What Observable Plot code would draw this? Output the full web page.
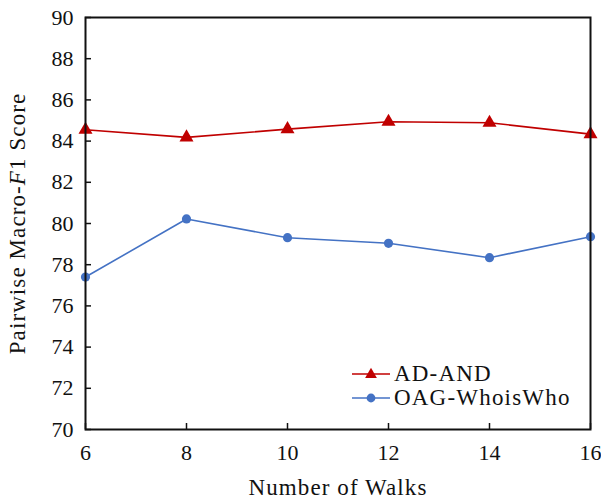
<!DOCTYPE html>
<html>
<head>
<meta charset="utf-8">
<script src="https://cdn.jsdelivr.net/npm/d3@7"></script>
<script src="https://cdn.jsdelivr.net/npm/@observablehq/plot@0.6"></script>
<style>
  html, body { margin: 0; padding: 0; background: #fff; }
  #chart { position: relative; width: 601px; height: 501px; }
  #chart svg text { font-family: "Liberation Serif", serif; }
  #legend {
    position: absolute; left: 350px; top: 362px;
    font-family: "Liberation Serif", serif; font-size: 23px; letter-spacing: 1.2px; color: #111;
  }
  #legend .row { display: flex; align-items: center; height: 24px; }
  #legend svg { margin-right: 2px; }
</style>
</head>
<body>
<div id="chart"></div>
<script>
// Number of random walks sampled per node
const walks = [6, 8, 10, 12, 14, 16];
// Pairwise Macro-F1 scores for each dataset
const adAnd = [84.55, 84.18, 84.58, 84.94, 84.89, 84.34];
const oagWhoisWho = [77.4, 80.22, 79.31, 79.04, 78.34, 79.36];
const xTicks = [6, 8, 10, 12, 14, 16];
const yTicks = [70, 72, 74, 76, 78, 80, 82, 84, 86, 88, 90];

const series = [
  {name: "AD-AND", values: adAnd, color: "#C00000", symbol: "triangle"},
  {name: "OAG-WhoisWho", values: oagWhoisWho, color: "#4472C4", symbol: "circle"}
];
const rows = series.flatMap(s => walks.map((w, i) => ({walks: w, score: s.values[i], name: s.name})));

const font = '"Liberation Serif", serif';
const marks = [];
for (const s of series) {
  const d = rows.filter(r => r.name === s.name);
  marks.push(Plot.line(d, {x: "walks", y: "score", stroke: s.color, strokeWidth: 1.6}));
  marks.push(Plot.dot(d, {x: "walks", y: "score", fill: s.color, symbol: s.symbol, r: s.symbol === "circle" ? 4.6 : 5.2}));
}

const chart = Plot.plot({
  width: 601,
  height: 501,
  marginLeft: 85,
  marginRight: 11,
  marginTop: 17,
  marginBottom: 72,
  style: {fontFamily: font, fontSize: "22px", color: "#111", background: "#fff"},
  x: {domain: [6, 16], ticks: xTicks},
  y: {domain: [70, 90], ticks: yTicks},
  marks: [
    ...marks,
    Plot.frame({stroke: "#111", strokeWidth: 2}),
    Plot.axisX({ticks: xTicks, tickSize: -6, tickPadding: 21, strokeWidth: 1.5, fontSize: 22,
      label: "Number of Walks", labelAnchor: "center", labelArrow: "none", labelOffset: 65}),
    Plot.axisY({ticks: yTicks, tickSize: -6, tickPadding: 18, strokeWidth: 1.5, fontSize: 22,
      label: "Pairwise Macro-F1 Score", labelAnchor: "center", labelArrow: "none", labelOffset: 77})
  ]
});
document.getElementById("chart").appendChild(chart);

// Italicise the "F" in the y-axis title and widen the axis titles slightly
d3.select(chart).selectAll("text").each(function() {
  const t = d3.select(this);
  if (t.text() === "Pairwise Macro-F1 Score") {
    t.text(null).style("letter-spacing", "1.1px").style("font-size", "23px");
    t.append("tspan").text("Pairwise Macro-");
    t.append("tspan").attr("font-style", "italic").text("F");
    t.append("tspan").text("1 Score");
  }
  if (t.text() === "Number of Walks") t.style("letter-spacing", "1.1px").style("font-size", "23px");
});

// Legend box
const legend = document.createElement("div");
legend.id = "legend";
for (const s of series) {
  const row = document.createElement("div");
  row.className = "row";
  const svg = d3.create("svg").attr("width", 42).attr("height", 16);
  svg.append("line").attr("x1", 2).attr("x2", 40).attr("y1", 8).attr("y2", 8)
    .attr("stroke", s.color).attr("stroke-width", 1.6);
  if (s.symbol === "circle") {
    svg.append("circle").attr("cx", 21).attr("cy", 8).attr("r", 4.4).attr("fill", s.color);
  } else {
    svg.append("path").attr("d", d3.symbol(d3.symbolTriangle, 60)()).attr("transform", "translate(21,8.5)").attr("fill", s.color);
  }
  row.appendChild(svg.node());
  const label = document.createElement("span");
  label.textContent = s.name;
  row.appendChild(label);
  legend.appendChild(row);
}
document.getElementById("chart").appendChild(legend);
</script>
</body>
</html>
